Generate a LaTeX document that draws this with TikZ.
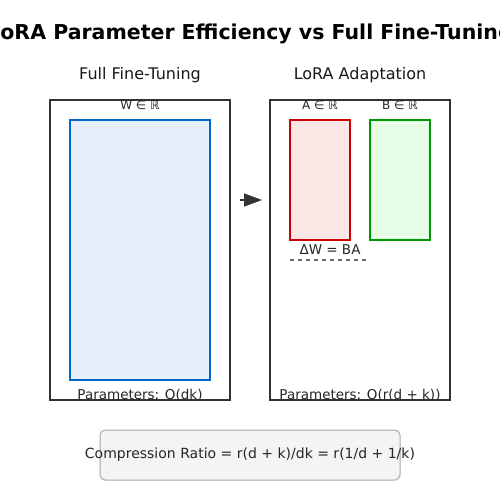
\documentclass[tikz,border=0pt]{standalone}
\usepackage{fontspec}
\setmainfont{DejaVu Sans}
\usetikzlibrary{arrows.meta}
\definecolor{dk}{HTML}{333333}
\definecolor{bluefill}{HTML}{E6F0FC}
\definecolor{bluedraw}{HTML}{0066CC}
\definecolor{redfill}{HTML}{FDE6E6}
\definecolor{reddraw}{HTML}{CC0000}
\definecolor{greenfill}{HTML}{E6FDE6}
\definecolor{greendraw}{HTML}{009900}
\definecolor{boxfill}{HTML}{F4F4F4}
\definecolor{boxdraw}{HTML}{AAAAAA}
\definecolor{dashc}{HTML}{666666}
\tikzset{
  outerbox/.style={draw=dk, line width=1.5pt},
  sym/.style={inner sep=0pt, font=\fontsize{12}{14}\selectfont, text=black!85},
  lbl/.style={inner sep=0pt, font=\fontsize{13.5}{15}\selectfont, text=black!85},
  hdr/.style={inner sep=0pt, font=\fontsize{16}{18}\selectfont, text=black!90},
}
\begin{document}
\begin{tikzpicture}[x=1pt,y=-1pt]
\useasboundingbox (0,0) rectangle (500,500);
\fill[white] (0,0) rectangle (500,500);
\node[inner sep=0pt, font=\fontsize{20.5}{22}\selectfont\bfseries] (title) at (250,34) {LoRA Parameter Efficiency vs Full Fine-Tuning};
\node[hdr] (hfull) at (140,75) {Full Fine-Tuning};
\node[hdr] (hlora) at (360,75) {LoRA Adaptation};
% left
\draw[outerbox] (50,100) rectangle (230,400);
\draw[fill=bluefill, draw=bluedraw, line width=1.5pt] (70,120) rectangle (210,380);
\node[sym] (wl) at (140,105) {W ∈ ℝ};
\node[lbl] (pl) at (140,395) {Parameters: O(dk)};
% right
\draw[outerbox] (270,100) rectangle (450,400);
\draw[fill=redfill, draw=reddraw, line width=1.5pt] (290,120) rectangle (350,240);
\draw[fill=greenfill, draw=greendraw, line width=1.5pt] (370,120) rectangle (430,240);
\node[sym] (al) at (320,105) {A ∈ ℝ};
\node[sym] (bl) at (400,105) {B ∈ ℝ};
\node[lbl] (dw) at (330,250) {ΔW = BA};
\coordinate (d1) at (290,260);
\coordinate (d2) at (366,260);
\draw[dashc, line width=1.2pt, dash pattern=on 4pt off 4pt] (d1) -- (d2);
\node[lbl] (pr) at (360,395) {Parameters: O(r(d + k))};
% arrow
\coordinate (a1) at (240,200);
\coordinate (a2) at (262,200);
\draw[dk, line width=1.5pt, -{Triangle[length=18pt,width=13pt]}] (a1) -- (a2);
% bottom box
\draw[fill=boxfill, draw=boxdraw, line width=1pt, rounded corners=5pt] (100,430) rectangle (400,480);
\node[lbl, font=\fontsize{14}{16}\selectfont] (cr) at (250,455) {Compression Ratio = r(d + k)/dk = r(1/d + 1/k)};
\end{tikzpicture}
\end{document}
